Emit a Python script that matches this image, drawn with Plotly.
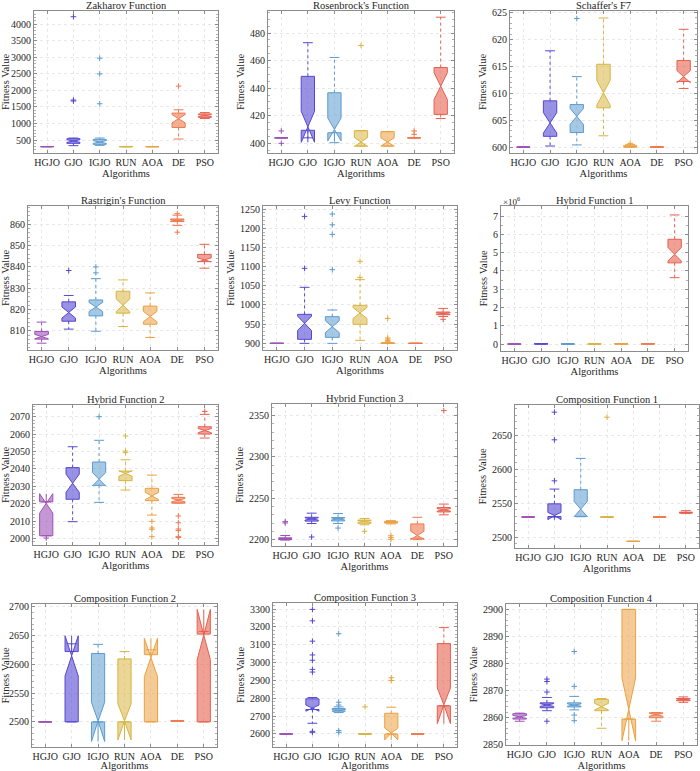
import math
import plotly.graph_objects as go
from plotly.subplots import make_subplots

ALGS = ["HGJO", "GJO", "IGJO", "RUN", "AOA", "DE", "PSO"]
N_RUNS = 30  # runs per algorithm, used for the MATLAB-style notch

# per function: lower whisker, q1, median, q3, upper whisker, outliers
zak_lo = [300, 330, 340, 300, 300, 530, 1150]
zak_q1 = [300, 400, 370, 300, 300, 880, 1185]
zak_med = [300, 470, 440, 300, 300, 1145, 1240]
zak_q3 = [300, 540, 520, 300, 300, 1315, 1290]
zak_hi = [300, 560, 560, 300, 300, 1415, 1330]
zak_out = [[], [1680, 1710, 4230], [1597, 2500, 2975], [], [], [2130], []]

ros_lo = [404, 404, 400.5, 398, 398, 404, 418]
ros_q1 = [404, 409.5, 407.7, 398, 398, 404, 421]
ros_med = [404, 412, 410.1, 401, 401, 404, 441.5]
ros_q3 = [404, 448.6, 436.7, 409.2, 408.5, 404, 455]
ros_hi = [404, 473, 462.3, 409.2, 408.5, 404, 491.5]
ros_out = [[400, 409], [], [], [471], [], [406.5, 409], []]

sch_lo = [600, 600.2, 600.4, 602.1, 600, 600, 610.9]
sch_q1 = [600, 602, 602.7, 607.3, 600, 600, 612.2]
sch_med = [600, 604.5, 605.7, 610.1, 600.1, 600, 613.1]
sch_q3 = [600, 608.6, 607.9, 615.4, 600.25, 600.05, 616.1]
sch_hi = [600, 617.9, 613.1, 624, 600.5, 600.1, 621.9]
sch_out = [[], [], [623.9], [], [600.7], [], []]

ras_lo = [804.2, 810.8, 809.8, 812, 806.9, 859.5, 839.4]
ras_q1 = [806.1, 814.5, 817, 818.3, 813.1, 861.3, 842.5]
ras_med = [807.3, 818.6, 821.2, 822, 816.7, 861.9, 843.3]
ras_q3 = [809.7, 823.6, 824.5, 828.6, 821.6, 862.5, 845.9]
ras_hi = [814.1, 826.6, 834.5, 833.9, 827.8, 864.3, 850.6]
ras_out = [[], [838.3], [837.2, 840], [], [], [856.3, 865], []]

levy_lo = [900, 900, 900, 907.8, 900, 900, 970]
levy_q1 = [900, 910.4, 915.6, 949.5, 900, 900, 974.7]
levy_med = [900, 952.1, 943.4, 979, 900.3, 900, 978]
levy_q3 = [900, 975.6, 969.5, 999, 900.8, 900, 981.6]
levy_hi = [900, 1046, 986.9, 1066, 901.5, 900, 991]
levy_out = [[], [1095.5, 1230.9], [1092, 1184, 1209, 1237], [1072, 1113.8],
            [904, 907, 911, 914, 965], [], [962.6]]

hf1_lo = [1800, 2000, 1900, 2000, 2000, 2000, 3.63e6]
hf1_q1 = [2100, 5000, 3000, 3000, 4000, 6000, 4.44e6]
hf1_med = [2500, 9000, 5000, 5000, 7000, 9000, 4.91e6]
hf1_q3 = [3000, 14000, 8000, 7000, 10000, 13000, 5.73e6]
hf1_hi = [4000, 30000, 15000, 12000, 20000, 25000, 7.06e6]
hf1_out = [[], [], [], [], [], [], []]

hf2_lo = [2001.5, 2009.6, 2020.7, 2027.8, 2013.4, 2020.3, 2057.7]
hf2_q1 = [2001.5, 2022.5, 2030.5, 2033.2, 2021.7, 2020.3, 2060]
hf2_med = [2020.1, 2031.7, 2034, 2037.3, 2024.4, 2022, 2062]
hf2_q3 = [2021, 2040.7, 2043.9, 2038.7, 2028.8, 2023.6, 2064.2]
hf2_hi = [2021, 2052.7, 2056.4, 2045.2, 2036.4, 2025.3, 2071.3]
hf2_out = [[2000.2], [], [2070], [2049.3, 2050.2, 2058.9], [2009.8, 2005.2, 2006, 2001],
           [2012.9, 2009, 2005.4, 2004.5, 2001, 2000.5], [2073]]

hf3_lo = [2199.5, 2219.5, 2219.5, 2218, 2219, 2200, 2230]
hf3_q1 = [2200, 2222.4, 2222.6, 2219.8, 2220, 2201.6, 2233.5]
hf3_med = [2200.8, 2225, 2225, 2222, 2221.2, 2205.1, 2236]
hf3_q3 = [2202.2, 2227, 2226.7, 2223.6, 2222, 2219, 2238.8]
hf3_hi = [2205, 2232, 2231.5, 2225.5, 2223, 2227, 2243]
hf3_out = [[2220.2, 2221.8], [2203.2], [2214], [2210.1], [2204.7, 2202.5, 2200.4], [], [2356]]

cf1_lo = [2529.5, 2529.5, 2530, 2529.5, 2493.6, 2529.5, 2535]
cf1_q1 = [2529.5, 2530.3, 2530.5, 2529.5, 2493.6, 2529.5, 2535.5]
cf1_med = [2529.5, 2531, 2541.3, 2529.5, 2493.6, 2529.5, 2536]
cf1_q3 = [2529.5, 2549, 2569.9, 2529.5, 2493.6, 2529.5, 2536.7]
cf1_hi = [2529.5, 2570.8, 2616.1, 2529.5, 2493.6, 2529.5, 2539]
cf1_out = [[], [2583, 2643.6, 2684.4], [], [2677], [], [], []]

cf2_lo = [2500, 2500, 2500, 2500, 2500, 2501.7, 2500]
cf2_q1 = [2500, 2500, 2500, 2500, 2500, 2501.7, 2500]
cf2_med = [2500, 2614.9, 2500, 2500, 2612, 2501.7, 2652]
cf2_q3 = [2500, 2622.4, 2619, 2609.6, 2617, 2501.7, 2652.8]
cf2_hi = [2500, 2635.9, 2635, 2622.4, 2625.4, 2501.7, 2657.4]
cf2_out = [[], [], [], [], [], [], []]

cf3_lo = [2600, 2660, 2720, 2600, 2600, 2600, 2758]
cf3_q1 = [2600, 2737, 2727.6, 2600, 2600, 2600, 2758]
cf3_med = [2600, 2745, 2732, 2600, 2600, 2600, 2758]
cf3_q3 = [2600, 2797, 2742.6, 2600, 2716, 2600, 3106.6]
cf3_hi = [2600, 2804.5, 2752, 2600, 2750, 2600, 3196]
cf3_out = [[], [2609, 2615, 2947, 2962, 3013, 3043, 3120, 3234, 3298],
           [2609, 2619, 2762, 2778, 3162], [2752], [2900, 2915], [], []]

cf4_lo = [2858.6, 2862.5, 2862.8, 2856, 2859.4, 2858.6, 2865.6]
cf4_q1 = [2859.4, 2863.6, 2863.9, 2862.5, 2859.4, 2859.9, 2866.2]
cf4_med = [2860.2, 2864.6, 2864.6, 2864, 2863, 2861, 2866.6]
cf4_q3 = [2861.4, 2865.4, 2865.4, 2866.7, 2900, 2861.7, 2867]
cf4_hi = [2861.6, 2867.4, 2867.8, 2867, 2900, 2861.8, 2867.6]
cf4_out = [[], [2858.6, 2869.4, 2873.3, 2874.2], [2858.8, 2860.9, 2871.5, 2884.4], [], [], [], []]

PANELS = [
    ("Zakharov Function", zak_lo, zak_q1, zak_med, zak_q3, zak_hi, zak_out),
    ("Rosenbrock's Function", ros_lo, ros_q1, ros_med, ros_q3, ros_hi, ros_out),
    ("Schaffer's F7", sch_lo, sch_q1, sch_med, sch_q3, sch_hi, sch_out),
    ("Rastrigin's Function", ras_lo, ras_q1, ras_med, ras_q3, ras_hi, ras_out),
    ("Levy Function", levy_lo, levy_q1, levy_med, levy_q3, levy_hi, levy_out),
    ("Hybrid Function 1", hf1_lo, hf1_q1, hf1_med, hf1_q3, hf1_hi, hf1_out),
    ("Hybrid Function 2", hf2_lo, hf2_q1, hf2_med, hf2_q3, hf2_hi, hf2_out),
    ("Hybrid Function 3", hf3_lo, hf3_q1, hf3_med, hf3_q3, hf3_hi, hf3_out),
    ("Composition Function 1", cf1_lo, cf1_q1, cf1_med, cf1_q3, cf1_hi, cf1_out),
    ("Composition Function 2", cf2_lo, cf2_q1, cf2_med, cf2_q3, cf2_hi, cf2_out),
    ("Composition Function 3", cf3_lo, cf3_q1, cf3_med, cf3_q3, cf3_hi, cf3_out),
    ("Composition Function 4", cf4_lo, cf4_q1, cf4_med, cf4_q3, cf4_hi, cf4_out),
]

# layout: plot area in pixels (left, right, top, bottom), y range, y tick step
W, H = 700, 771
AREAS = [
    (34, 218, 11, 153), (268, 454, 11, 153), (510, 697, 11, 153),
    (28, 218, 206, 350), (263, 457, 206, 350), (501, 688, 206, 351),
    (33, 218, 405, 545), (272, 457, 404, 546), (515, 699, 405, 548),
    (32, 217, 604, 747), (273, 457, 603, 747), (506, 697, 604, 745),
]
Y_RANGES = [
    (108, 4402), (393, 496), (598.9, 625.3),
    (801, 868.6), (882.6, 1258), (-0.38e6, 7.55e6),
    (1996.2, 2076.7), (2192.3, 2364), (2483.8, 2695),
    (2456.3, 2705.2), (2527, 3334), (2849.8, 2902),
]
Y_DTICK = [500, 20, 5, 10, 50, 1e6, 10, 50, 50, 50, 100, 10]

EDGE = ["#9e52b8", "#5548d0", "#5b9bd0", "#d8b440", "#eba040", "#ef7a4f", "#e6604f"]
FILL = ["rgba(158,82,184,0.6)", "rgba(85,72,208,0.6)", "rgba(91,155,208,0.55)",
        "rgba(216,180,64,0.55)", "rgba(235,160,64,0.55)", "rgba(239,122,79,0.6)",
        "rgba(230,96,79,0.6)"]

FONT = "Liberation Serif"
TXT = "#262626"
FS = 10

fig = make_subplots(rows=4, cols=3)

for i, (title, lo, q1, med, q3, hi, out) in enumerate(PANELS):
    r, c = i // 3 + 1, i % 3 + 1
    for k, alg in enumerate(ALGS):
        # MATLAB notch: median +/- 1.57*IQR/sqrt(n)
        span = 1.57 * (q3[k] - q1[k]) / math.sqrt(N_RUNS)
        fig.add_trace(go.Box(
            x=[alg], q1=[q1[k]], median=[med[k]], q3=[q3[k]],
            lowerfence=[q1[k]], upperfence=[q3[k]],
            notched=True, notchspan=[span], notchwidth=0.5,
            width=0.5, whiskerwidth=0, boxpoints=False,
            fillcolor=FILL[k], line=dict(color=EDGE[k], width=1),
            showlegend=False, hoverinfo="skip"), row=r, col=c)
        # dotted whiskers
        fig.add_trace(go.Scatter(
            x=[alg, alg, None, alg, alg], y=[q1[k], lo[k], None, q3[k], hi[k]],
            mode="lines", line=dict(color=EDGE[k], width=1, dash="dot"),
            showlegend=False, hoverinfo="skip"), row=r, col=c)
        # whisker caps
        fig.add_trace(go.Scatter(
            x=[alg, alg], y=[lo[k], hi[k]], mode="markers",
            marker=dict(symbol="line-ew", size=7, line=dict(color=EDGE[k], width=1)),
            showlegend=False, hoverinfo="skip"), row=r, col=c)
        if out[k]:
            fig.add_trace(go.Scatter(
                x=[alg] * len(out[k]), y=out[k], mode="markers",
                marker=dict(symbol="cross-thin", size=4, line=dict(color=EDGE[k], width=1)),
                showlegend=False, hoverinfo="skip"), row=r, col=c)

    left, right, top, bottom = AREAS[i]
    sfx = "" if i == 0 else str(i + 1)
    fig.layout["xaxis" + sfx].domain = [left / W, right / W]
    fig.layout["yaxis" + sfx].domain = [1 - bottom / H, 1 - top / H]

    fig.add_annotation(x=(left + right) / 2 / W, y=1 - top / H, xref="paper", yref="paper",
                       xanchor="center", yanchor="bottom", yshift=-2, showarrow=False,
                       text=title, font=dict(family=FONT, size=FS + 0.5, color=TXT))

    ykw = dict(range=list(Y_RANGES[i]), dtick=Y_DTICK[i])
    if i == 5:
        ykw.update(tickmode="array", tickvals=[k * 1e6 for k in range(8)],
                   ticktext=[str(k) for k in range(8)])
        fig.add_annotation(x=left / W, y=1 - top / H, xref="paper", yref="paper",
                           xanchor="left", yanchor="bottom", showarrow=False, yshift=-3,
                           text="×10<sup>6</sup>", font=dict(family=FONT, size=9, color=TXT))
    fig.update_yaxes(row=r, col=c, title=dict(text="Fitness Value", standoff=3,
                                              font=dict(family=FONT, size=FS + 0.5, color=TXT)), **ykw)
    fig.update_xaxes(row=r, col=c, title=dict(text="Algorithms", standoff=0,
                                              font=dict(family=FONT, size=FS + 0.5, color=TXT)))

fig.update_xaxes(categoryorder="array", categoryarray=ALGS, range=[-0.5, 6.5],
                 showgrid=True, gridcolor="#e8e8e8", griddash="dot", zeroline=False,
                 showline=True, linecolor="#8c8c8c", linewidth=1, mirror="ticks",
                 ticks="inside", ticklen=3, tickcolor="#8c8c8c",
                 tickfont=dict(family=FONT, size=FS, color=TXT), automargin=False)
fig.update_yaxes(showgrid=True, gridcolor="#e8e8e8", griddash="dot", zeroline=False,
                 showline=True, linecolor="#8c8c8c", linewidth=1, mirror="ticks",
                 ticks="inside", ticklen=3, tickcolor="#8c8c8c",
                 minor=dict(ticks="inside", ticklen=2, tickcolor="#b0b0b0", nticks=5),
                 tickfont=dict(family=FONT, size=FS, color=TXT), automargin=False)

fig.update_layout(width=W, height=H, margin=dict(l=0, r=0, t=0, b=0),
                  paper_bgcolor="white", plot_bgcolor="white", boxmode="overlay",
                  font=dict(family=FONT, size=FS, color=TXT))

# drop the browser's default body margin so the figure sits at the window corner
fig.write_html("out.html", config={"displayModeBar": False},
               post_script="document.body.style.margin='0';")
